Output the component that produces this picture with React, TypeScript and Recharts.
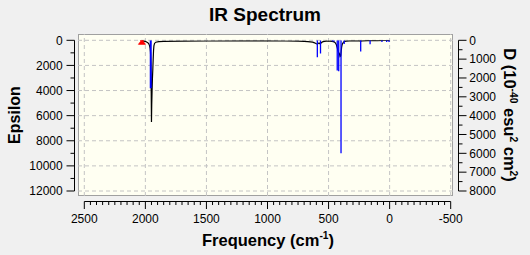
import React from 'react';
import {
  ComposedChart,
  Line,
  Scatter,
  XAxis,
  YAxis,
  CartesianGrid,
  ReferenceLine,
} from 'recharts';

// ---------- data ----------
const specFreq = [
  2030, 2015, 2000, 1990, 1980, 1972, 1966, 1961, 1958, 1955, 1952, 1950, 1948, 1945, 1942,
  1939, 1936, 1933, 1930, 1925, 1915, 1890, 1850, 1700, 1500, 1200, 1000, 850, 750, 700, 670,
  650, 630, 615, 600, 592, 585, 578, 570, 565, 558, 545, 520, 490, 470, 455, 445, 437, 430,
  424, 418, 412, 406, 401, 397, 393, 389, 385, 380, 374, 367, 355, 330, 290, 250, 237, 225,
  180, 150, 100, 50, 20, 0,
];
const specEps = [
  40, 60, 90, 130, 190, 280, 420, 650, 950, 1800, 4200, 6500, 5200, 4000, 3000,
  2300, 1500, 800, 450, 250, 150, 100, 80, 60, 55, 50, 50, 55, 65, 80, 100,
  120, 150, 200, 270, 300, 250, 220, 280, 260, 180, 110, 70, 60, 80, 120, 200, 330, 550,
  800, 950, 1050, 1300, 1250, 900, 550, 350, 250, 180, 120, 90, 70, 50, 40, 45, 60, 40,
  30, 30, 20, 15, 15, 10,
];
const stickFreq = [1956, 592, 566, 468, 455, 429, 417, 398, 372, 237, 160, 63, 24, 5];
const stickD = [2550, 900, 700, 60, 70, 1600, 1640, 6000, 200, 600, 210, 90, 90, 90];
const markerFreq = [2028];
const markerEps = [60];

const xMajorTicks = [2500, 2000, 1500, 1000, 500, 0, -500];
const leftMajorTicks = [0, 2000, 4000, 6000, 8000, 10000, 12000];
const rightMajorTicks = [0, 1000, 2000, 3000, 4000, 5000, 6000, 7000, 8000];

// minor tick sets (axis decoration only)
const xTicks = Array.from({ length: 61 }, (_, i) => 2500 - i * 50);
const leftTicks = Array.from({ length: 13 }, (_, i) => i * 1000);
const rightTicks = Array.from({ length: 17 }, (_, i) => i * 500);

// ---------- derived tables ----------
const spectrum = specFreq.map((f, i) => ({ f, eps: specEps[i] }));
const sticks = stickFreq.map((f, i) => [
  { f, d: 0 },
  { f, d: stickD[i] },
]);
const marker = markerFreq.map((f, i) => ({ f, eps: markerEps[i] }));

// ---------- layout ----------
const W = 530;
const H = 255;
const PLOT = { left: 78, top: 34, right: 453, bottom: 196 };
const Y_AXIS_W = 60;
const X_AXIS_H = 50;
const FONT = '"Liberation Sans", Arial, sans-serif';

const XTick = (props: any) => {
  const { x, y, payload } = props;
  const v = payload.value;
  const major = xMajorTicks.includes(v);
  const ay = y + 5.5;
  return (
    <g>
      <line x1={x} x2={x} y1={ay} y2={ay + (major ? 7.5 : 3.5)} stroke="#000" strokeWidth={1} />
      {major && (
        <text x={x} y={ay + 21.5} textAnchor="middle" fontSize={12} fill="#000" fontFamily={FONT}>
          {v}
        </text>
      )}
    </g>
  );
};

const LTick = (props: any) => {
  const { x, y, payload } = props;
  const v = payload.value;
  const major = leftMajorTicks.includes(v);
  const ax = x - 3.5;
  return (
    <g>
      <line x1={ax - (major ? 8 : 4)} x2={ax} y1={y} y2={y} stroke="#000" strokeWidth={1} />
      {major && (
        <text x={ax - 11.8} y={y + 4.3} textAnchor="end" fontSize={12} fill="#000" fontFamily={FONT}>
          {v}
        </text>
      )}
    </g>
  );
};

const RTick = (props: any) => {
  const { x, y, payload } = props;
  const v = payload.value;
  const major = rightMajorTicks.includes(v);
  const ax = x + 5.5;
  return (
    <g>
      <line x1={ax} x2={ax + (major ? 8 : 4)} y1={y} y2={y} stroke="#000" strokeWidth={1} />
      {major && (
        <text x={ax + 10.8} y={y + 4.3} textAnchor="start" fontSize={12} fill="#000" fontFamily={FONT}>
          {v}
        </text>
      )}
    </g>
  );
};

const MarkerShape = (props: any) => {
  const { cx, cy } = props;
  if (cx == null || cy == null) return null;
  const pts = [
    [cx - 3.5, cy - 3.3],
    [cx + 3.5, cy - 3.3],
    [cx + 1, cy],
    [cx + 3.5, cy + 3.3],
    [cx - 3.5, cy + 3.3],
    [cx - 1, cy],
  ]
    .map((p) => p.join(','))
    .join(' ');
  return <polygon points={pts} fill="#ff0000" stroke="#ff0000" strokeWidth={0.8} />;
};

export default function App() {
  const margin = {
    left: PLOT.left - Y_AXIS_W,
    right: W - PLOT.right - Y_AXIS_W,
    top: PLOT.top,
    bottom: H - PLOT.bottom - X_AXIS_H,
  };
  return (
    <div
      style={{
        position: 'fixed',
        left: 0,
        top: 0,
        width: W,
        height: H,
        background: '#f0f0f0',
        overflow: 'hidden',
        fontFamily: FONT,
        color: '#000',
      }}
    >
      <div style={{ position: 'absolute', left: 0, top: 0 }}>
        <ComposedChart width={W} height={H} margin={margin}>
          <CartesianGrid
            yAxisId="left"
            fill="#fffff2"
            stroke="#a0a0a0"
            horizontalPoints={[PLOT.top + 0.5, PLOT.bottom - 0.5]}
            verticalPoints={[PLOT.left + 0.5, PLOT.right - 0.5]}
          />
          <XAxis
            dataKey="f"
            type="number"
            domain={[-500, 2500]}
            reversed
            allowDataOverflow
            ticks={xTicks}
            interval={0}
            tick={XTick}
            tickLine={false}
            tickSize={0}
            tickMargin={0}
            height={X_AXIS_H}
            padding={{ left: 6.3, right: 2.3 }}
            axisLine={{ stroke: '#000', transform: 'translate(0,5.5)', strokeDasharray: '0 6.3 366.4 1000' }}
          />
          <YAxis
            yAxisId="left"
            type="number"
            domain={[0, 12000]}
            reversed
            allowDataOverflow
            ticks={leftTicks}
            interval={0}
            tick={LTick}
            tickLine={false}
            tickSize={0}
            tickMargin={0}
            width={Y_AXIS_W}
            padding={{ top: 6.3, bottom: 5 }}
            axisLine={{ stroke: '#000', transform: 'translate(-3.5,0)', strokeDasharray: '0 6.3 150.7 1000' }}
          />
          <YAxis
            yAxisId="right"
            orientation="right"
            type="number"
            domain={[0, 8000]}
            reversed
            allowDataOverflow
            ticks={rightTicks}
            interval={0}
            tick={RTick}
            tickLine={false}
            tickSize={0}
            tickMargin={0}
            width={Y_AXIS_W}
            padding={{ top: 6.3, bottom: 5 }}
            axisLine={{ stroke: '#000', transform: 'translate(5.5,0)', strokeDasharray: '0 6.3 150.7 1000' }}
          />
          {xMajorTicks.map((v) => (
            <ReferenceLine
              key={'gx' + v}
              x={v}
              yAxisId="left"
              stroke="#c4c4c4"
              strokeDasharray="4 3"
              ifOverflow="visible"
            />
          ))}
          {leftMajorTicks.map((v) => (
            <ReferenceLine
              key={'gy' + v}
              y={v}
              yAxisId="left"
              stroke="#c4c4c4"
              strokeDasharray="4 3"
              ifOverflow="visible"
            />
          ))}
          <Line
            yAxisId="left"
            data={spectrum}
            dataKey="eps"
            type="linear"
            stroke="#000"
            strokeWidth={1.2}
            dot={false}
            activeDot={false}
            isAnimationActive={false}
          />
          {sticks.map((s, i) => (
            <Line
              key={'st' + i}
              yAxisId="right"
              data={s}
              dataKey="d"
              type="linear"
              stroke="#0000ff"
              strokeWidth={i === 0 ? 2 : 1.3}
              dot={false}
              activeDot={false}
              isAnimationActive={false}
            />
          ))}
          <Scatter
            yAxisId="left"
            data={marker}
            dataKey="eps"
            shape={MarkerShape}
            isAnimationActive={false}
          />
        </ComposedChart>
      </div>
      <div
        style={{
          position: 'absolute',
          left: 0,
          top: 4,
          width: W,
          textAlign: 'center',
          fontWeight: 'bold',
          fontSize: 19,
          whiteSpace: 'nowrap',
        }}
      >
        IR Spectrum
      </div>
      <div
        style={{
          position: 'absolute',
          left: 14.5,
          top: 115,
          transform: 'translate(-50%,-50%) rotate(-90deg)',
          fontWeight: 'bold',
          fontSize: 16,
          whiteSpace: 'nowrap',
        }}
      >
        Epsilon
      </div>
      <div
        style={{
          position: 'absolute',
          left: 268,
          top: 239.5,
          transform: 'translate(-50%,-50%)',
          fontWeight: 'bold',
          fontSize: 16.5,
          whiteSpace: 'nowrap',
          lineHeight: '19px',
        }}
      >
        Frequency (cm<sup style={{ fontSize: '0.62em', lineHeight: 0 }}>-1</sup>)
      </div>
      <div
        style={{
          position: 'absolute',
          left: 509,
          top: 115,
          transform: 'translate(-50%,-50%) rotate(90deg)',
          fontWeight: 'bold',
          fontSize: 16.5,
          whiteSpace: 'nowrap',
          lineHeight: '19px',
        }}
      >
        D (10<sup style={{ fontSize: '0.62em', lineHeight: 0 }}>-40</sup> esu
        <sup style={{ fontSize: '0.62em', lineHeight: 0 }}>2</sup> cm
        <sup style={{ fontSize: '0.62em', lineHeight: 0 }}>2</sup>)
      </div>
    </div>
  );
}
